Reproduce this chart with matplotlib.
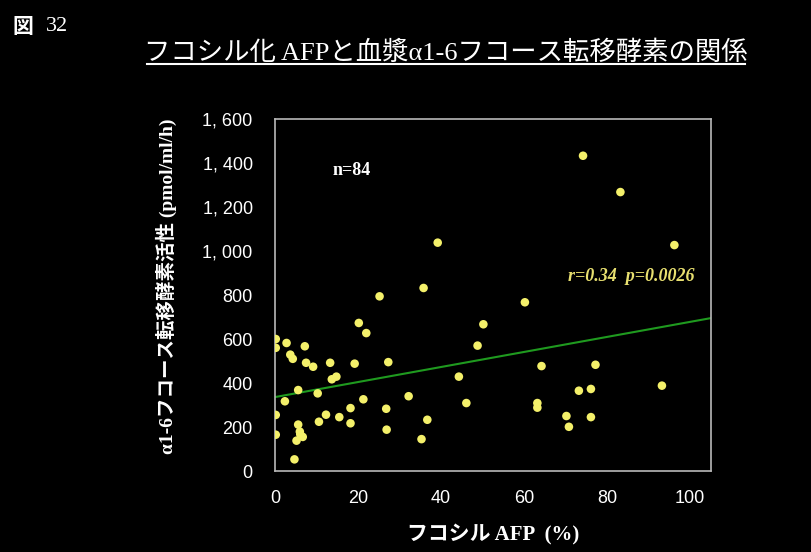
import matplotlib.pyplot as plt
from matplotlib.lines import Line2D
from matplotlib.ticker import FuncFormatter

# fucosylated AFP (%) vs plasma a1-6 fucosyltransferase activity (pmol/ml/h)
afp_pct = [0.2, 0.2, 2.8, 3.7, 4.3, 7.2, 7.5, 9.2, 13.3, 19.2,
           27.3, 20.2, 22.0, 25.2, 35.8, 48.8, 50.2, 13.7, 14.8, 5.6,
           10.3, 2.4, 21.3, 32.2, 44.3, 46.1, 0.2, 5.6, 6.0, 6.1,
           6.7, 5.2, 0.2, 4.7, 12.3, 10.6, 15.5, 18.2, 18.2, 26.8,
           26.9, 36.7, 35.3, 39.2, 74.2, 83.2, 96.2, 60.2, 64.2, 77.2,
           63.2, 63.2, 73.2, 76.1, 93.2, 70.2, 76.1, 70.8]
fut_activity = [600, 560, 582, 529, 510, 567, 492, 474, 492, 488,
                495, 673, 627, 794, 832, 570, 667, 417, 429, 368,
                353, 317, 326, 340, 429, 309, 255, 211, 179, 167,
                155, 138, 165, 53, 256, 224, 245, 286, 217, 283,
                188, 233, 145, 1038, 1433, 1268, 1027, 767, 477, 483,
                309, 288, 365, 373, 388, 250, 245, 201]

# regression line
fit_intercept = 336
fit_slope = 3.42

x_ticks = [0, 20, 40, 60, 80, 100]
y_ticks = [0, 200, 400, 600, 800, 1000, 1200, 1400, 1600]

jp_bold = ['Liberation Serif', 'Noto Sans CJK JP']
num_font = ['Liberation Sans Narrow', 'Liberation Sans', 'DejaVu Sans']

fig = plt.figure(figsize=(8.11, 5.52), dpi=100, facecolor='black')
ax = fig.add_axes([0.339, 0.1467, 0.5376, 0.6377], facecolor='black')

ax.scatter(afp_pct, fut_activity, s=38, color='#f4f06a', edgecolors='none', zorder=3)
xs = [0, 105]
ax.plot(xs, [fit_intercept + fit_slope * x for x in xs], color='#1f9a1f', lw=1.5, zorder=2)

ax.set_xlim(0, 105)
ax.set_ylim(0, 1600)
ax.set_xticks(x_ticks)
ax.set_yticks(y_ticks)
ax.yaxis.set_major_formatter(FuncFormatter(lambda v, p: f'{int(v):,}'.replace(',', ', ')))
ax.tick_params(length=0, colors='white', labelsize=13)
ax.tick_params(axis='y', pad=16)
ax.tick_params(axis='x', pad=14)
for lbl in ax.get_xticklabels() + ax.get_yticklabels():
    lbl.set_family(num_font)
for sp in ax.spines.values():
    sp.set_color('#b8b8b8')
    sp.set_linewidth(1.2)

ax.set_xlabel('フコシル AFP  (%)', family=jp_bold, weight='bold', fontsize=15,
              color='white', labelpad=12)
ax.set_ylabel('α1-6フコース転移酵素活性 (pmol/ml/h)', family=jp_bold, weight='bold',
              fontsize=14, color='white')
ax.yaxis.set_label_coords(-0.225, 0.526)

ax.text(18.6, 1368, 'n=84', family='Liberation Serif', weight='bold', fontsize=13,
        color='white', ha='center', va='center')
ax.text(85.8, 886, 'r=0.34  p=0.0026', family='Liberation Serif', weight='bold',
        style='italic', fontsize=13, color='#e8e070', ha='center', va='center')

fig.text(0.015, 0.952, '図', family='Noto Sans CJK JP', weight='bold', fontsize=15,
         color='white', va='center')
fig.text(0.057, 0.952, '32', family='Liberation Serif', fontsize=16,
         color='white', va='center')
fig.text(0.550, 0.905, 'フコシル化 AFPと血漿α1-6フコース転移酵素の関係', family=jp_bold,
         fontsize=19, color='white', ha='center', va='center')
fig.add_artist(Line2D([147 / 811, 745 / 811], [1 - 64 / 552, 1 - 64 / 552],
                      color='white', lw=1.5))

fig.savefig('out.png', dpi=100, facecolor='black')
